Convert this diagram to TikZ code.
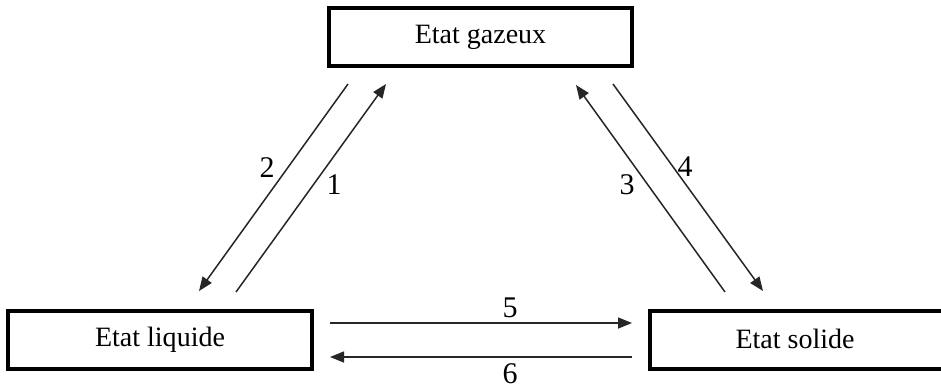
\documentclass[tikz,border=0pt]{standalone}
\usepackage{fontspec}
\setmainfont{Liberation Serif}
\usetikzlibrary{arrows.meta}
\begin{document}
\begin{tikzpicture}[x=1pt,y=-1pt,
  statebox/.style={draw=black,line width=3.2pt,minimum width=#1,minimum height=58pt,inner sep=0pt,font=\fontsize{28}{32}\selectfont},
  conn/.style={draw=black!85,line width=1.5pt,-{Triangle[length=14pt,width=11pt]}},
  num/.style={font=\fontsize{30}{34}\selectfont,inner sep=0pt}]
\useasboundingbox[fill=white] (0,0) rectangle (941,389);
\node[statebox=303pt] (gaz) at (480.5,37) {Etat gazeux};
\node[statebox=304pt] (liq) at (160,340) {Etat liquide};
\node[statebox=294pt] (sol) at (797,340) {};
\node[font=\fontsize{28}{32}\selectfont,anchor=center] (soltxt) at (795,339) {Etat solide};
% connector end points
\coordinate (a1s) at (236,292); \coordinate (a1e) at (386,84);
\coordinate (a2s) at (348,84);  \coordinate (a2e) at (199,291);
\coordinate (a3s) at (725,292); \coordinate (a3e) at (576,85);
\coordinate (a4s) at (613,84);  \coordinate (a4e) at (763,291);
\coordinate (a5s) at (330,323); \coordinate (a5e) at (632,323);
\coordinate (a6s) at (632,357); \coordinate (a6e) at (330,357);
\draw[conn] (a1s) -- (a1e);
\draw[conn] (a2s) -- (a2e);
\draw[conn] (a3s) -- (a3e);
\draw[conn] (a4s) -- (a4e);
\draw[conn] (a5s) -- (a5e);
\draw[conn] (a6s) -- (a6e);
\node[num] (n1) at (334,185) {1};
\node[num] (n2) at (267,168) {2};
\node[num] (n3) at (627,185) {3};
\node[num] (n4) at (685,167) {4};
\node[num] (n5) at (510,308) {5};
\node[num] (n6) at (510,374) {6};
\end{tikzpicture}
\end{document}
